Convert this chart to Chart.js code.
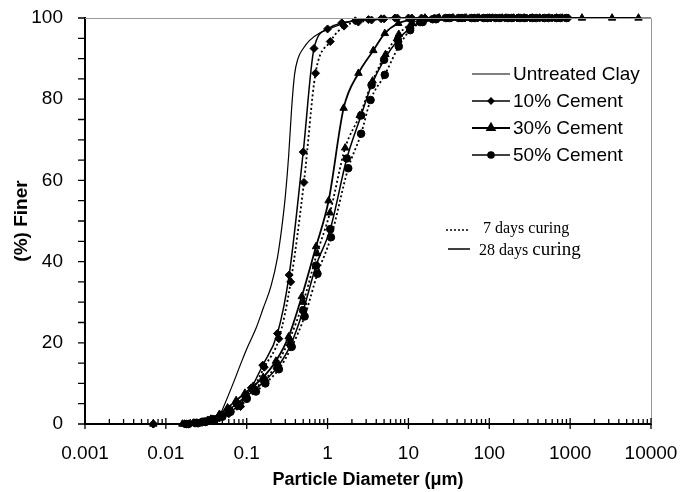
<!DOCTYPE html>
<html>
<head>
<meta charset="utf-8">
<script src="https://cdn.jsdelivr.net/npm/chart.js@4.4.1/dist/chart.umd.min.js"></script>
<style>
  html, body { margin: 0; padding: 0; background: #fff; }
  #wrap { width: 683px; height: 492px; }
</style>
</head>
<body>
<div id="wrap"><canvas id="c" width="683" height="492"></canvas></div>
<script>
// particle diameter (um) vs % finer
const clayX = [0.042, 0.05, 0.068, 0.085, 0.1, 0.13, 0.16, 0.2, 0.24, 0.27, 0.3, 0.33, 0.36, 0.39, 0.43, 0.5, 0.6, 0.8, 1.2, 1.8, 3, 6, 10000];
const clayY = [0, 3.5, 10, 15, 18.5, 23.5, 28.5, 34, 41, 48, 56, 66, 78, 86, 90, 92.5, 94.5, 96.3, 97.8, 99, 99.7, 100, 100];

const c10d28X = [0.007, 0.017, 0.022, 0.027, 0.033, 0.044, 0.058, 0.081, 0.114, 0.158, 0.24, 0.335, 0.5, 0.68, 1.0, 1.5, 2.2, 3.2, 4.6, 6.8, 10, 14.5, 21, 31, 45, 65, 95, 140, 200, 290, 420, 600, 870];
const c10d28Y = [0, 0, 0.3, 0.5, 1, 1.7, 2.7, 4.7, 8.9, 14.5, 22.3, 36.7, 67, 92.5, 97.3, 98.8, 99.3, 99.6, 99.8, 100, 100, 100, 100, 100, 100, 100, 100, 100, 100, 100, 100, 100, 100];
const c10d7X = [0.007, 0.018, 0.023, 0.028, 0.035, 0.046, 0.06, 0.084, 0.118, 0.165, 0.25, 0.35, 0.51, 0.71, 1.08, 1.6, 2.4, 3.5, 5, 7.3, 11, 16, 23, 34, 50, 72, 105, 155, 220, 320, 460, 660, 950];
const c10d7Y = [0, 0, 0.2, 0.4, 0.8, 1.5, 2.5, 4.3, 8.3, 14, 21, 35, 59.5, 86.4, 94.2, 98, 99, 99.5, 99.8, 100, 100, 100, 100, 100, 100, 100, 100, 100, 100, 100, 100, 100, 100];

const c30d28X = [0.007, 0.016, 0.022, 0.028, 0.036, 0.046, 0.058, 0.074, 0.095, 0.12, 0.16, 0.23, 0.33, 0.48, 0.72, 1.03, 1.58, 2.41, 3.68, 5.1, 7.5, 11, 16, 24, 36, 50, 72, 100, 145, 200, 270, 340, 420, 550, 680, 800, 1400, 3300, 7000];
const c30d28Y = [0, 0, 0.2, 0.5, 1.2, 2.4, 4, 5.8, 7.6, 9.3, 11.5, 15.5, 21.5, 31.4, 43.7, 55, 77.8, 86.4, 92, 96.2, 98.7, 99.6, 100, 100, 100, 100, 100, 100, 100, 100, 100, 100, 100, 100, 100, 100, 100, 100, 100];
const c30d7X = [0.017, 0.023, 0.029, 0.037, 0.048, 0.06, 0.077, 0.1, 0.125, 0.17, 0.24, 0.34, 0.5, 0.74, 1.07, 1.65, 2.5, 3.6, 5.2, 7.6, 11, 16, 24, 35, 52, 75, 110, 160, 230];
const c30d7Y = [0, 0.2, 0.4, 1, 2, 3.5, 5.2, 7, 8.8, 11, 15, 21, 30, 42, 52, 68, 76, 84.5, 91, 96, 98.8, 99.7, 100, 100, 100, 100, 100, 100, 100];

const c50d28X = [0.018, 0.024, 0.03, 0.038, 0.048, 0.06, 0.076, 0.097, 0.125, 0.165, 0.24, 0.35, 0.5, 0.72, 1.08, 1.73, 2.6, 3.5, 5, 7.4, 10.5, 14, 20, 29, 42, 60, 85, 120, 170, 240, 340, 480, 680, 900];
const c50d28Y = [0, 0.3, 0.6, 1.2, 2.2, 3.5, 5, 6.7, 8.4, 10.5, 14, 19.5, 28, 39, 48, 65.4, 76, 83.5, 89.7, 94.6, 97.5, 99, 99.7, 100, 100, 100, 100, 100, 100, 100, 100, 100, 100, 100];
const c50d7X = [0.019, 0.025, 0.031, 0.04, 0.05, 0.063, 0.08, 0.1, 0.13, 0.17, 0.25, 0.36, 0.52, 0.75, 1.1, 1.8, 2.6, 3.4, 5.1, 7.6, 10.5, 15, 22, 32, 46, 66, 95, 135, 190, 270, 380, 540, 760];
const c50d7Y = [0, 0.2, 0.5, 1, 1.8, 3, 4.5, 6.2, 8, 10, 13.5, 19, 26.5, 37, 46, 63, 71.5, 79.8, 86, 93, 97, 99, 99.7, 100, 100, 100, 100, 100, 100, 100, 100, 100, 100];

const xMajor = [0.001, 0.01, 0.1, 1, 10, 100, 1000, 10000];
const yTicks = [0, 5, 10, 15, 20, 25, 30, 35, 40, 45, 50, 55, 60, 65, 70, 75, 80, 85, 90, 95, 100];
const yLabels = [0, 20, 40, 60, 80, 100];

const pts = (xs, ys) => xs.map((x, i) => ({ x, y: ys[i] }));
const xMinor = [];
xMajor.slice(0, -1).forEach(d => { for (let k = 2; k <= 9; k++) xMinor.push(+(d * k).toPrecision(3)); });

const SANS = "'Liberation Sans', Arial, sans-serif";
const SERIF = "'Liberation Serif', 'Times New Roman', serif";

function series(xs, ys, style, dashed, width, radius) {
  return {
    data: pts(xs, ys),
    borderColor: '#000', backgroundColor: '#000',
    borderWidth: width, borderDash: dashed ? [2, 2.5] : [],
    pointStyle: style || false, pointRadius: style ? radius : 0,
    pointBackgroundColor: '#000', pointBorderColor: '#000', pointBorderWidth: 1,
    cubicInterpolationMode: 'monotone', fill: false, clip: 8,
  };
}

const frame = {
  id: 'frame',
  afterDraw(chart) {
    const { ctx, chartArea: a, scales: { x, y } } = chart;
    ctx.save();
    ctx.strokeStyle = '#999'; ctx.lineWidth = 1;
    ctx.beginPath(); ctx.moveTo(a.left, a.top + 0.5); ctx.lineTo(a.right + 0.5, a.top + 0.5); ctx.lineTo(a.right + 0.5, a.bottom); ctx.stroke();
    ctx.strokeStyle = '#000'; ctx.lineWidth = 1.3;
    ctx.beginPath();
    xMinor.forEach(v => { const p = x.getPixelForValue(v); ctx.moveTo(p, a.bottom); ctx.lineTo(p, a.bottom - 5); });
    xMajor.forEach(v => { const p = x.getPixelForValue(v); ctx.moveTo(p, a.bottom + 5); ctx.lineTo(p, a.bottom - 6); });
    yTicks.forEach(v => { const p = y.getPixelForValue(v); ctx.moveTo(a.left - 7, p); ctx.lineTo(a.left, p); });
    ctx.stroke();

    // series legend
    const rows = [
      ['Untreated Clay', null, 1],
      ['10% Cement', 'rectRot', 1.3],
      ['30% Cement', 'triangle', 2.2],
      ['50% Cement', 'circle', 1.6],
    ];
    const rowY = [74, 101, 128, 155];
    ctx.font = '19px ' + SANS; ctx.fillStyle = '#000'; ctx.textBaseline = 'middle';
    rows.forEach(([label, ps, w], i) => {
      const yy = rowY[i];
      ctx.lineWidth = w; ctx.beginPath(); ctx.moveTo(472, yy); ctx.lineTo(510, yy); ctx.stroke();
      if (ps) Chart.helpers.drawPoint(ctx, { pointStyle: ps, radius: ps === 'triangle' ? 4 : 3, borderWidth: 1 }, 491, yy);
      ctx.fillText(label, 513, yy + 1);
    });

    // curing legend
    ctx.lineWidth = 1.5;
    ctx.setLineDash([2, 2]);
    ctx.beginPath(); ctx.moveTo(446, 230); ctx.lineTo(468, 230); ctx.stroke();
    ctx.setLineDash([]);
    ctx.beginPath(); ctx.moveTo(448, 249); ctx.lineTo(470, 249); ctx.stroke();
    ctx.font = '16px ' + SERIF;
    ctx.fillText('7 days curing', 483, 229);
    ctx.fillText('28 days ', 479, 251);
    const w28 = ctx.measureText('28 days ').width;
    ctx.font = '19px ' + SERIF;
    ctx.fillText('curing', 479 + w28, 250);
    ctx.restore();
  }
};

new Chart(document.getElementById('c'), {
  type: 'line',
  data: {
    datasets: [
      series(clayX, clayY, null, false, 1.2, 0),
      series(c10d28X, c10d28Y, 'rectRot', false, 1.5, 4),
      series(c10d7X, c10d7Y, 'rectRot', true, 1.8, 4),
      series(c30d28X, c30d28Y, 'triangle', false, 1.8, 4.3),
      series(c30d7X, c30d7Y, 'triangle', true, 1.8, 4.3),
      series(c50d28X, c50d28Y, 'circle', false, 1.5, 3.8),
      series(c50d7X, c50d7Y, 'circle', true, 1.8, 3.8),
    ]
  },
  options: {
    responsive: false, animation: false, devicePixelRatio: 1,
    layout: { padding: { top: 18, right: 32, left: 0, bottom: 0 } },
    plugins: { legend: { display: false }, tooltip: { enabled: false } },
    scales: {
      x: {
        type: 'logarithmic', min: 0.001, max: 10000,
        afterBuildTicks: s => { s.ticks = xMajor.map(v => ({ value: v })); },
        afterFit: s => { s.height = 68; s.paddingLeft = 0; s.paddingRight = 0; },
        grid: { display: true, drawOnChartArea: false, drawTicks: false },
        border: { display: true, color: '#000', width: 2 },
        ticks: { autoSkip: false, maxRotation: 0, padding: 18, color: '#000', font: { family: SANS, size: 19 },
          callback: v => String(v) },
        title: { display: true, text: 'Particle Diameter (\u03bcm)', color: '#000', font: { family: SANS, size: 18, weight: 'bold' }, padding: { top: 0, bottom: 1 } },
      },
      y: {
        min: 0, max: 100,
        afterBuildTicks: s => { s.ticks = yLabels.map(v => ({ value: v })); },
        afterFit: s => { s.width = 85; s.paddingTop = 0; s.paddingBottom = 0; },
        grid: { display: true, drawOnChartArea: false, drawTicks: false },
        border: { display: true, color: '#000', width: 2 },
        ticks: { autoSkip: false, padding: 22, color: '#000', font: { family: SANS, size: 19 } },
        title: { display: true, text: '(%) Finer', color: '#000', font: { family: SANS, size: 19, weight: 'bold' }, padding: { top: 10, bottom: 0 } },
      }
    }
  },
  plugins: [frame]
});
</script>
</body>
</html>
